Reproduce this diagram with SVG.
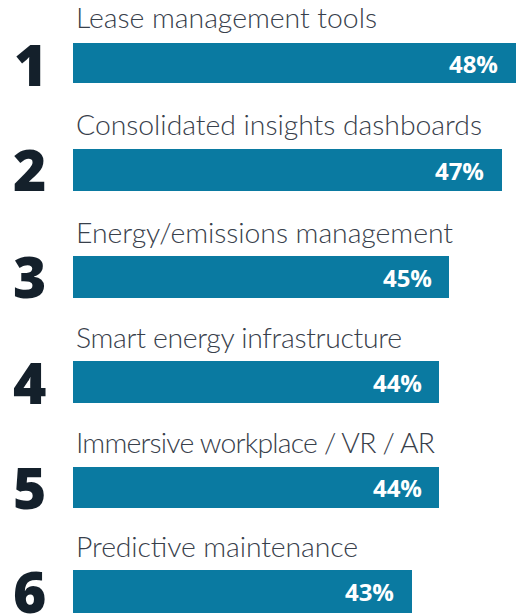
<svg xmlns="http://www.w3.org/2000/svg" width="519" height="615" viewBox="0 0 519 615">
<style>
.bar{fill:#0a7aa1}
.lbl{font-family:Lato,"Open Sans",sans-serif;font-weight:300;font-size:28.4px;fill:#38404b}
.num{font-family:"Open Sans","Liberation Sans",sans-serif;font-weight:800;font-size:57px;fill:#14202b}
.pct{font-family:"Open Sans","Liberation Sans",sans-serif;font-weight:700;font-size:24px;fill:#ffffff;text-anchor:end}
</style>
<rect width="519" height="615" fill="#ffffff"/>
<g id="item1">
<text class="lbl" x="76" y="28" textLength="301" lengthAdjust="spacing">Lease management tools</text>
<text class="num" x="14" y="86">1</text>
<rect class="bar" x="73" y="43" width="443" height="40"/>
<text class="pct" x="498" y="73">48%</text>
</g>
<g id="item2">
<text class="lbl" x="76" y="135" textLength="406" lengthAdjust="spacing">Consolidated insights dashboards</text>
<text class="num" x="13" y="191">2</text>
<rect class="bar" x="73" y="149" width="429" height="42"/>
<text class="pct" x="484" y="180">47%</text>
</g>
<g id="item3">
<text class="lbl" x="76" y="243" textLength="377" lengthAdjust="spacing">Energy/emissions management</text>
<text class="num" x="13" y="298">3</text>
<rect class="bar" x="73" y="256" width="376" height="42"/>
<text class="pct" x="432" y="287">45%</text>
</g>
<g id="item4">
<text class="lbl" x="76" y="348" textLength="326" lengthAdjust="spacing">Smart energy infrastructure</text>
<text class="num" x="13" y="404">4</text>
<rect class="bar" x="73" y="361" width="366" height="42"/>
<text class="pct" x="422" y="392">44%</text>
</g>
<g id="item5">
<text class="lbl" x="76" y="453" textLength="359" lengthAdjust="spacing">Immersive workplace / VR / AR</text>
<text class="num" x="13" y="509">5</text>
<rect class="bar" x="73" y="467" width="366" height="41"/>
<text class="pct" x="422" y="497">44%</text>
</g>
<g id="item6">
<text class="lbl" x="76" y="557" textLength="282" lengthAdjust="spacing">Predictive maintenance</text>
<text class="num" x="13" y="613">6</text>
<rect class="bar" x="73" y="570" width="339" height="43"/>
<text class="pct" x="394" y="601">43%</text>
</g>
</svg>
